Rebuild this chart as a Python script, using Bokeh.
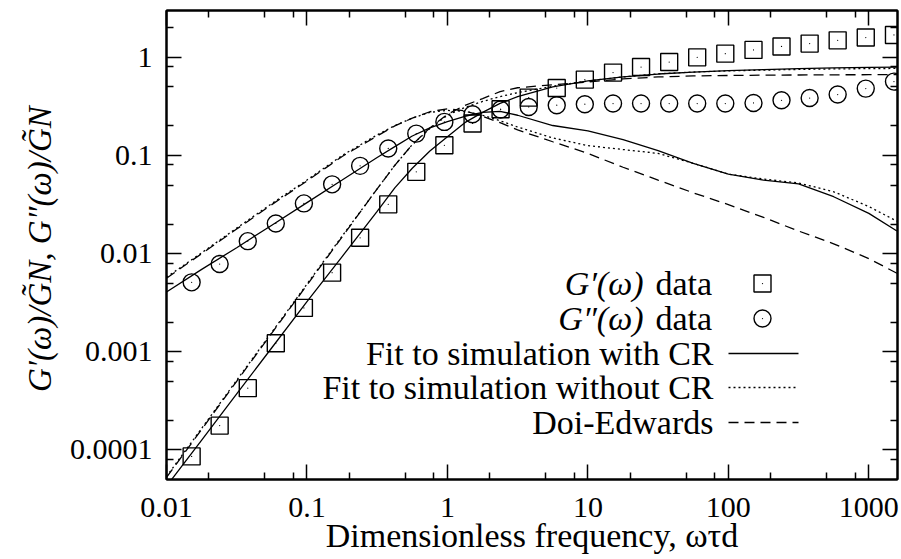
import math
from bokeh.plotting import figure
from bokeh.models import (FixedTicker, CustomJSTickFormatter, LogAxis, Label, Arrow,
                          Range1d, CustomLabelingPolicy)
from bokeh.embed import file_html
from bokeh.resources import INLINE

# ---------------- data ----------------
omega_data = [0.0151, 0.0239, 0.0379, 0.0600, 0.0951, 0.151, 0.239, 0.379, 0.600, 0.951,
              1.51, 2.39, 3.79, 6.00, 9.51, 15.1, 23.9, 37.9, 60.0, 95.1,
              151, 239, 379, 600, 951, 1510]
g_storage_data = [8.6e-5, 1.77e-4, 4.26e-4, 1.22e-3, 2.80e-3, 6.40e-3, 0.0145, 0.0318, 0.0681, 0.127,
                  0.212, 0.296, 0.389, 0.487, 0.593, 0.699, 0.797, 0.896, 1.00, 1.09,
                  1.19, 1.29, 1.38, 1.49, 1.59, 1.69]
g_loss_data = [5.10e-3, 7.84e-3, 0.0134, 0.0203, 0.0325, 0.0508, 0.0784, 0.118, 0.167, 0.220,
               0.263, 0.294, 0.312, 0.325, 0.333, 0.338, 0.338, 0.338, 0.338, 0.338,
               0.343, 0.365, 0.385, 0.418, 0.480, 0.566]

omega_fit = [0.01, 0.0178, 0.0316, 0.0562, 0.1, 0.178, 0.316, 0.422, 0.562, 0.750, 1.0,
             1.33, 1.78, 2.37, 3.16, 5.62, 10.0, 17.8, 31.6, 56.2, 100, 178, 316, 562, 1000, 1585]
g1_cr = [4.27e-5, 1.26e-4, 3.72e-4, 1.10e-3, 3.24e-3, 9.33e-3, 0.0269, 0.0468, 0.0741, 0.111, 0.155,
         0.216, 0.275, 0.339, 0.398, 0.501, 0.575, 0.631, 0.676, 0.708, 0.733, 0.750, 0.767, 0.780,
         0.791, 0.796]
g2_cr = [4.07e-3, 6.92e-3, 0.0115, 0.0195, 0.0331, 0.0562, 0.0955, 0.123, 0.158, 0.191, 0.221,
         0.251, 0.275, 0.282, 0.257, 0.202, 0.178, 0.145, 0.112, 0.0832, 0.0646, 0.0562, 0.0513,
         0.0380, 0.0257, 0.0170]
g1_nocr = [5.37e-5, 1.66e-4, 5.13e-4, 1.58e-3, 4.90e-3, 0.0151, 0.0457, 0.0794, 0.129, 0.188, 0.257,
           0.309, 0.355, 0.398, 0.437, 0.507, 0.575, 0.631, 0.679, 0.708, 0.728, 0.741, 0.753, 0.762,
           0.767, 0.771]
g2_nocr = [5.75e-3, 0.0102, 0.0182, 0.0324, 0.0562, 0.100, 0.162, 0.202, 0.240, 0.275, 0.288,
           0.282, 0.257, 0.226, 0.195, 0.151, 0.126, 0.115, 0.105, 0.0832, 0.0646, 0.0575, 0.0525,
           0.0427, 0.0302, 0.0214]
g1_de = [5.25e-5, 1.62e-4, 5.01e-4, 1.55e-3, 4.79e-3, 0.0148, 0.0457, 0.0794, 0.129, 0.191, 0.263,
         0.324, 0.380, 0.447, 0.490, 0.525, 0.562, 0.603, 0.631, 0.646, 0.653, 0.658, 0.661, 0.664,
         0.665, 0.667]
g2_de = [5.62e-3, 0.0100, 0.0178, 0.0316, 0.0550, 0.0977, 0.158, 0.200, 0.240, 0.279, 0.299,
         0.285, 0.251, 0.216, 0.182, 0.138, 0.105, 0.0759, 0.0562, 0.0417, 0.0316, 0.0234, 0.0170,
         0.0126, 8.91e-3, 6.31e-3]

x_ticks = [0.01, 0.1, 1, 10, 100, 1000]
x_tick_labels = ["0.01", "0.1", "1", "10", "100", "1000"]
y_ticks = [0.0001, 0.001, 0.01, 0.1, 1]
y_tick_labels = ["0.0001", "0.001", "0.01", "0.1", "1"]
minor_factors = [2, 5, 8]

x_title = "Dimensionless frequency, ωτd"
y_title = "G′(ω)/G̃N,  G″(ω)/G̃N"
legend_labels = ["Fit to simulation with CR", "Fit to simulation without CR", "Doi-Edwards"]

# ---------------- figure ----------------
FL, FR, FT, FB = 166, 897, 10, 479   # frame edges in canvas pixels
XLO, XHI, YLO, YHI = 0.01, 1600, 5e-5, 3
FONT = "Liberation Serif"
DOT = "2 3"
DASH = "10 6"

p = figure(width=901, height=559, x_axis_type="log", y_axis_type="log",
           x_range=Range1d(XLO, XHI), y_range=Range1d(YLO, YHI),
           output_backend="svg", toolbar_location=None,
           min_border_left=FL, min_border_right=901 - FR, min_border_top=FT,
           min_border_bottom=559 - FB)
p.grid.visible = False
p.background_fill_color = "white"
p.border_fill_color = "white"
p.outline_line_color = "black"
p.outline_line_width = 2

def minors(majors, lo, hi):
    out = []
    for m in majors + [majors[0] / 10]:
        for f in minor_factors:
            v = m * f
            if lo < v < hi:
                out.append(v)
    return sorted(out)

xt = FixedTicker(ticks=x_ticks, minor_ticks=minors(x_ticks, XLO, XHI))
yt = FixedTicker(ticks=y_ticks, minor_ticks=minors(y_ticks, YLO, YHI))
fmt = CustomJSTickFormatter(code="return tick.toString();")
no_labels = CustomLabelingPolicy(code="""
for (const i of Array.from(indices)) { indices.unset(i) }
return indices
""")

def style(ax, ticker, labels=None, standoff=12):
    ax.ticker = ticker
    ax.formatter = fmt
    ax.axis_line_color = "black"
    ax.axis_line_width = 2
    ax.major_tick_in = 15
    ax.major_tick_out = 0
    ax.minor_tick_in = 7
    ax.minor_tick_out = 0
    ax.major_tick_line_width = 1.5
    ax.minor_tick_line_width = 1.5
    ax.major_tick_line_color = "black"
    ax.minor_tick_line_color = "black"
    if labels is None:
        ax.axis_label = None
        ax.major_label_policy = no_labels
        ax.major_label_text_font_size = "0px"
        ax.major_label_standoff = 0
    else:
        ax.major_label_overrides = {t: s for t, s in zip(ticker.ticks, labels)}
        ax.major_label_text_font = FONT
        ax.major_label_text_font_size = "30px"
        ax.major_label_text_color = "black"
        ax.major_label_standoff = standoff
        ax.axis_label_text_font = FONT
        ax.axis_label_text_color = "black"

xa = p.xaxis[0]
ya = p.yaxis[0]
style(xa, xt, x_tick_labels, 18)
style(ya, yt, y_tick_labels, 14)
xa.axis_label = x_title
xa.axis_label_text_font_size = "34px"
xa.axis_label_text_font_style = "normal"
xa.axis_label_standoff = -3
ya.axis_label = y_title
ya.axis_label_text_font_size = "33px"
ya.axis_label_text_font_style = "italic"
ya.axis_label_standoff = 9

top = LogAxis()
right = LogAxis()
style(top, xt)
style(right, yt)
p.add_layout(top, "above")
p.add_layout(right, "right")

# ---------------- curves ----------------
p.line(omega_fit, g1_cr, line_color="black", line_width=1.3)
p.line(omega_fit, g2_cr, line_color="black", line_width=1.3)
p.line(omega_fit, g1_nocr, line_color="black", line_width=1.3, line_dash=DOT)
p.line(omega_fit, g2_nocr, line_color="black", line_width=1.3, line_dash=DOT)
p.line(omega_fit, g1_de, line_color="black", line_width=1.3, line_dash=DASH)
p.line(omega_fit, g2_de, line_color="black", line_width=1.3, line_dash=DASH)

p.scatter(omega_data, g_storage_data, marker="square", size=17, fill_color=None,
          line_color="black", line_width=1.4)
p.scatter(omega_data, g_loss_data, marker="circle", size=17, fill_color=None,
          line_color="black", line_width=1.4)
p.scatter(omega_data + omega_data, g_storage_data + g_loss_data, marker="dot", size=5,
          line_color="black", fill_color="black")

# ---------------- legend (drawn at canvas pixel positions) ----------------
def lab(text, X, Y, size, style="normal", align="left"):
    p.add_layout(Label(x=X - FL, y=FB - Y, x_units="screen", y_units="screen", text=text,
                       text_font=FONT, text_font_size=f"{size}px", text_font_style=style,
                       text_align=align, text_baseline="middle", text_color="black"))

def seg(X0, X1, Y, dash="solid"):
    p.add_layout(Arrow(x_start=X0 - FL, y_start=FB - Y, x_end=X1 - FL, y_end=FB - Y,
                       start_units="screen", end_units="screen", start=None, end=None,
                       line_color="black", line_width=1.3, line_dash=dash))

def px_to_data(X, Y):
    lx = math.log10(XLO) + (X - FL) / (FR - FL) * (math.log10(XHI) - math.log10(XLO))
    ly = math.log10(YLO) + (FB - Y) / (FB - FT) * (math.log10(YHI) - math.log10(YLO))
    return 10 ** lx, 10 ** ly

LX = 713
rows = [283, 318, 353, 387, 422]
lab("G′(ω)", 643, rows[0], 34, style="italic", align="right")
lab("data", 655, rows[0], 34)
lab("G″(ω)", 643, rows[1], 34, style="italic", align="right")
lab("data", 655, rows[1], 34)
for txt, yy in zip(legend_labels, rows[2:]):
    lab(txt, LX, yy, 34, align="right")

kx, ky0 = px_to_data(762, rows[0])
_, ky1 = px_to_data(762, rows[1])
p.scatter([kx], [ky0], marker="square", size=17, fill_color=None, line_color="black", line_width=1.4)
p.scatter([kx], [ky1], marker="circle", size=17, fill_color=None, line_color="black", line_width=1.4)
p.scatter([kx, kx], [ky0, ky1], marker="dot", size=5, line_color="black", fill_color="black")

seg(728, 798, rows[2])
seg(728, 798, rows[3], DOT)
seg(728, 798, rows[4], DASH)

open("out.html", "w").write(file_html(p, INLINE))
